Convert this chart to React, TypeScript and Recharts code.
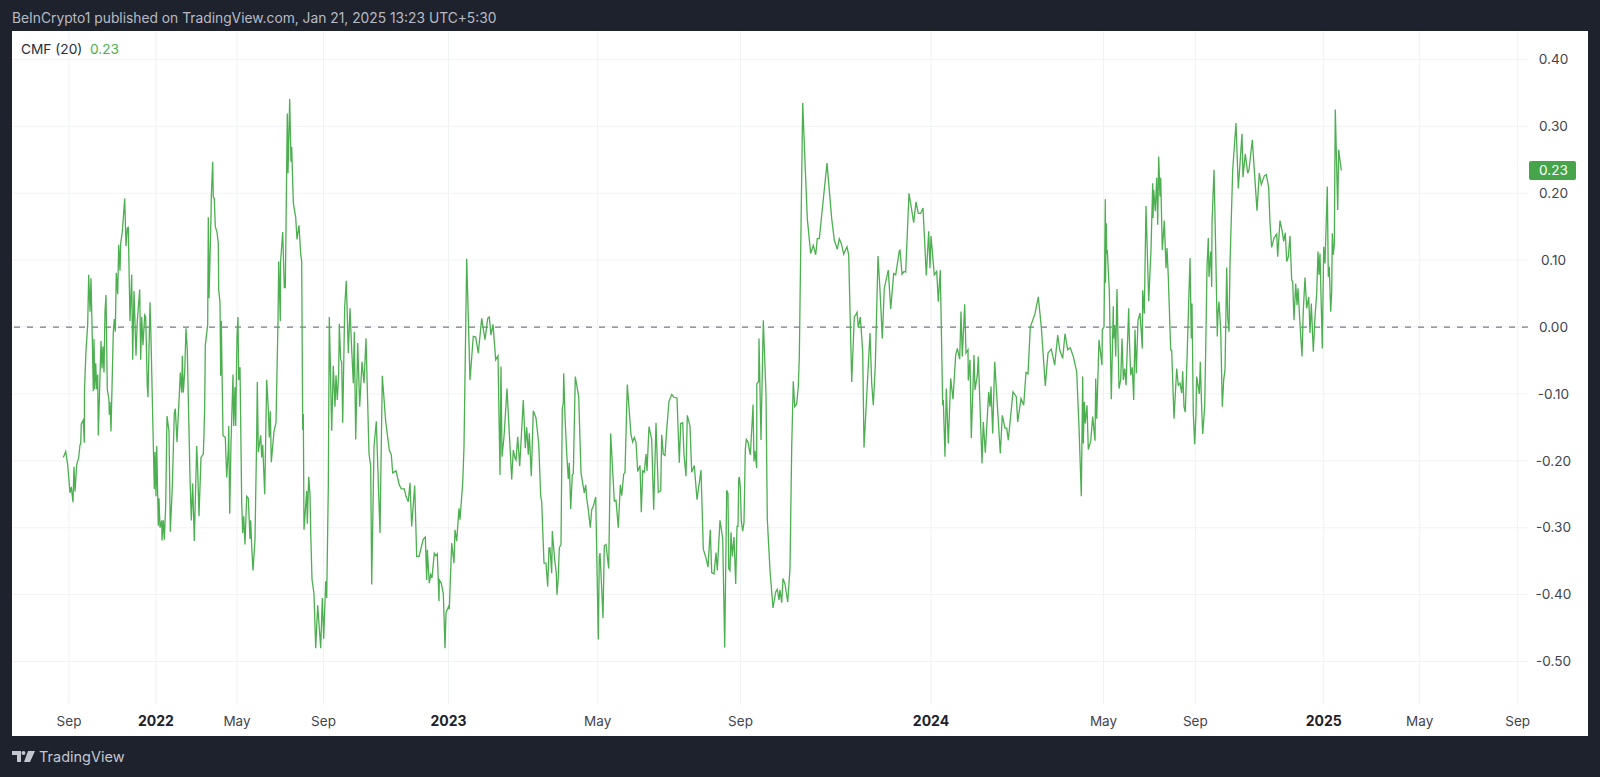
import React from 'react';
import { LineChart, Line, XAxis, YAxis, CartesianGrid, ReferenceLine } from 'recharts';

// [bar, cmf] readings, one list per calendar year
const cmf2021: number[][] = [
  [51.3, -0.195], [53.7, -0.186], [55.7, -0.206], [58, -0.248], [59.3, -0.239], [61, -0.262], [62, -0.209], [63, -0.246],
  [64.7, -0.206], [66.7, -0.195], [68, -0.176], [68.7, -0.175], [69.3, -0.145], [71.3, -0.139], [72.3, -0.173], [72.5, -0.093],
  [74, -0.035], [75.7, 0.004], [76.7, 0.078], [78, 0.023], [79, 0.073], [80.3, -0.018], [81.3, -0.096], [82, -0.018],
  [82.7, -0.093], [83.7, -0.054], [84.7, -0.093], [85.7, -0.071], [86.3, -0.162], [88, -0.073], [89, -0.021], [90, -0.062],
  [91, -0.029], [92, -0.068], [93, 0.023], [94, 0.048], [95.3, -0.093], [97, -0.109], [97.3, -0.131], [98, -0.112],
  [99, -0.156], [101.3, -0.007], [102.3, 0.012], [103.3, -0.007], [104.3, 0.081], [105.7, 0.049], [106.7, 0.123], [108, 0.084],
  [108.7, 0.125], [110.3, 0.142], [112.7, 0.192], [114, 0.121], [115.3, 0.148], [116.3, 0.149], [118, 0.009], [119.7, 0.078],
  [120.7, -0.049], [122, 0.054], [124, -0.043], [125.3, 0.009], [127.7, 0.056], [128.7, -0.049], [129.7, 0.015], [131, -0.027],
  [132.7, 0.018], [133.7, 0.015], [135.3, -0.09], [136, -0.105], [138, 0.037], [139, -0.018], [142.3, -0.242], [143, -0.187],
];
const cmf2022: number[][] = [
  [144, -0.253], [144.7, -0.178], [146.3, -0.297], [147, -0.256], [148, -0.3], [149.7, -0.289], [150, -0.319], [151.3, -0.289],
  [152.3, -0.318], [153.7, -0.267], [155, -0.133], [157, -0.156], [158.3, -0.306], [160.3, -0.239], [162.3, -0.129], [163.3, -0.122],
  [165, -0.172], [167.3, -0.101], [168.3, -0.068], [169.7, -0.098], [170.3, -0.043], [171.3, -0.098], [172.7, -0.068], [174, -0.002],
  [175.3, -0.035], [178, -0.225], [179.3, -0.289], [180.7, -0.234], [182.3, -0.32], [184.7, -0.178], [185.7, -0.212], [187, -0.283],
  [189, -0.195], [191.3, -0.19], [192, -0.159], [192.7, -0.118], [193.3, -0.027], [195.7, 0.004], [196.3, 0.164], [197, 0.043],
  [199, 0.164], [199.3, 0.194], [200.7, 0.247], [201.3, 0.194], [202.3, 0.192], [203.3, 0.15], [205, 0.142], [206.3, 0.125],
  [206.7, 0.055], [208, 0.037], [208.7, -0.073], [209.3, 0.009], [211, -0.162], [213.3, -0.165], [214.7, -0.225], [216.3, -0.184],
  [216.7, -0.148], [217.7, -0.279], [219, -0.173], [221, -0.071], [221.7, -0.148], [223, -0.09], [223.7, -0.148], [225, -0.013],
  [226, 0.015], [226.7, -0.079], [228, -0.06], [229.7, -0.261], [230.7, -0.308], [231.7, -0.283], [233, -0.325], [234.7, -0.253],
  [236.3, -0.256], [238, -0.317], [238.7, -0.289], [239.7, -0.328], [241, -0.364], [243, -0.317], [244.7, -0.162], [245.3, -0.082],
  [246.3, -0.187], [248.7, -0.162], [249.7, -0.195], [250.7, -0.176], [252.7, -0.25], [254.7, -0.079], [256.3, -0.123], [257.3, -0.165],
  [258.3, -0.126], [259.3, -0.202], [262, -0.156], [264, -0.143], [266, 0.009], [266.7, 0.098], [268.3, 0.009], [268.6, 0.098],
  [270.7, 0.142], [272.3, 0.059], [273.3, 0.059], [275.3, 0.319], [276, 0.23], [277.7, 0.341], [279, 0.247], [279.7, 0.269],
  [281.3, 0.186], [283.7, 0.164], [285, 0.131], [287, 0.152], [288.7, 0.109], [289.7, 0.098], [290.7, -0.154], [291.3, -0.13],
  [292, -0.303], [294.7, -0.245], [295.3, -0.294], [296.7, -0.224], [298, -0.25], [298.7, -0.306], [300, -0.377], [302, -0.399],
  [303.7, -0.48], [305.7, -0.416], [308.7, -0.48], [310.3, -0.405], [311.7, -0.466], [313.7, -0.38], [314.7, -0.405], [316.3, -0.239],
  [317.3, 0.015], [319.7, -0.155], [321.3, -0.058], [323, -0.119], [324, -0.072], [325.3, -0.109], [326.7, -0.069], [327.3, 0.005],
  [328.7, -0.049], [329.7, -0.052], [330.7, -0.143], [332.7, 0.03], [334.3, 0.069], [336.3, -0.039], [338, 0.028], [339.7, -0.034],
  [341.3, -0.084], [342.3, -0.007], [343.7, -0.168], [345.7, -0.024], [347.7, -0.119], [350, -0.052], [352, -0.084], [354, -0.017],
  [357, -0.189], [358.7, -0.208], [359.7, -0.385], [362, -0.179], [364.3, -0.141], [368, -0.308], [370.3, -0.073], [373.7, -0.141],
  [377.3, -0.184], [379.3, -0.191], [380.7, -0.218], [384, -0.215], [387.3, -0.236], [389.3, -0.242], [392.3, -0.242], [394, -0.253],
  [396.3, -0.261], [398, -0.233], [399.7, -0.298], [402.7, -0.237], [404.7, -0.343], [407, -0.343], [411.3, -0.317], [413.3, -0.314],
  [414.7, -0.378], [415.3, -0.333], [417.3, -0.383], [418.7, -0.37], [420, -0.375], [422.3, -0.338], [424, -0.342], [425.3, -0.339],
  [427, -0.41], [427.3, -0.378], [429.3, -0.383], [431.3, -0.398], [433, -0.48], [434, -0.427],
];
const cmf2023: number[][] = [
  [436.7, -0.417], [437.3, -0.422], [439.7, -0.323], [442, -0.353], [443, -0.303], [444.7, -0.32], [447, -0.271], [448, -0.288],
  [450.7, -0.233], [452, -0.179], [454.7, 0.102], [458, -0.079], [461.3, -0.014], [463.7, -0.015], [466.3, -0.039], [469.7, 0.013],
  [473, -0.019], [475.7, 0.013], [477.3, 0.015], [479, -0.012], [481, 0.004], [483.7, -0.049], [486, -0.043], [488, -0.221],
  [489, -0.059], [490, -0.194], [492, -0.164], [495, -0.092], [499.7, -0.228], [501.3, -0.184], [503, -0.196], [504, -0.199],
  [505.7, -0.164], [507.7, -0.208], [511.3, -0.109], [513.3, -0.181], [514.7, -0.15], [516.3, -0.191], [517.3, -0.159], [519.3, -0.223],
  [521.3, -0.125], [524, -0.136], [526.7, -0.174], [528.7, -0.253], [529.7, -0.261], [532, -0.353], [534, -0.353], [535.7, -0.388],
  [537, -0.33], [538, -0.33], [539.7, -0.368], [540.3, -0.305], [542.7, -0.348], [544.3, -0.368], [545, -0.4], [546.3, -0.374],
  [547.3, -0.33], [549, -0.325], [550.3, -0.121], [551.3, -0.114], [551.7, -0.069], [553, -0.134], [554.7, -0.189], [556.3, -0.227],
  [557.3, -0.203], [558.7, -0.272], [560.3, -0.221], [561.3, -0.219], [563.3, -0.074], [566.7, -0.104], [569, -0.218], [572.3, -0.248],
  [573.7, -0.236], [574.7, -0.256], [576.3, -0.273], [578.3, -0.3], [579.7, -0.273], [581.3, -0.268], [583.7, -0.254], [586.3, -0.467],
  [587.3, -0.343], [588, -0.338], [589.7, -0.391], [591, -0.435], [592.3, -0.327], [594, -0.325], [596.7, -0.361], [598.7, -0.159],
  [602.3, -0.26], [604, -0.259], [606.3, -0.3], [608.3, -0.236], [609.7, -0.252], [611.7, -0.22], [613, -0.217], [615.3, -0.086],
  [619, -0.161], [620.7, -0.172], [622.3, -0.165], [624, -0.172], [625.7, -0.216], [628, -0.207], [629.3, -0.277], [630.7, -0.215],
  [632.3, -0.217], [634, -0.19], [635, -0.215], [637, -0.149], [639.7, -0.168], [641.7, -0.273], [644, -0.143], [646.3, -0.247],
  [648.7, -0.245], [649.7, -0.161], [651.3, -0.19], [653, -0.192], [654.7, -0.153], [657, -0.111], [659.7, -0.101], [662, -0.105],
  [665, -0.106], [667.3, -0.203], [668.7, -0.144], [670.7, -0.143], [672, -0.191], [674, -0.223], [675.3, -0.132], [678, -0.148],
  [679.7, -0.217], [682.3, -0.207], [685, -0.258], [689, -0.214], [691.3, -0.332], [694, -0.345], [696, -0.359], [698.3, -0.303],
  [699.7, -0.367], [702, -0.369], [704, -0.337], [705.3, -0.364], [708, -0.289], [710.7, -0.316], [712.7, -0.479], [714.7, -0.244],
  [716, -0.249], [716.7, -0.361], [718, -0.364], [719, -0.307], [720.3, -0.343], [722, -0.314], [723.7, -0.384], [725, -0.298],
  [726, -0.298], [726.7, -0.228], [727.3, -0.224], [728.3, -0.239], [729.3, -0.289], [730.7, -0.305], [732, -0.292], [733.3, -0.183],
  [734.3, -0.168], [736, -0.172], [738.3, -0.191], [740.7, -0.127], [741, -0.116], [742, -0.201], [743, -0.185], [744.7, -0.211],
  [744.8, -0.085], [746.7, -0.081], [747, -0.017], [749, -0.169], [751.3, 0.01], [754, -0.1], [755.3, -0.287], [758, -0.364],
  [761, -0.42], [763.7, -0.396], [765.3, -0.392], [767, -0.408], [768, -0.393], [769.7, -0.412], [771, -0.376], [773, -0.384],
  [775.7, -0.411], [778, -0.361], [779.7, -0.18], [781.3, -0.081], [782.7, -0.119], [784.7, -0.115], [786.3, -0.089], [787.3, -0.046],
  [788.7, 0.114], [790.7, 0.335], [793, 0.247], [795.3, 0.162], [798.7, 0.11], [801.3, 0.122], [803.7, 0.108], [805.3, 0.132],
  [807.3, 0.132], [809.7, 0.167], [815, 0.245], [819.7, 0.162], [822.3, 0.13], [825.3, 0.116], [827.3, 0.132], [829.3, 0.125],
  [831.7, 0.109], [835, 0.12], [836.7, 0.108], [839.7, -0.082], [842.3, 0.015], [843.7, 0.018], [845, 0.022], [846.3, -0.001],
  [848.3, 0.015], [850.7, -0.036], [852, -0.18], [858, -0.009], [859.7, -0.084], [861.3, -0.117], [863.3, -0.057], [866, 0.106],
  [868, 0.055], [870.3, -0.017], [872.3, 0.058], [876.3, 0.085], [878.7, 0.027], [881.7, 0.08], [883.7, 0.078], [887.3, 0.114],
  [888, 0.115], [890, 0.079], [892, 0.083], [893.7, 0.082], [897, 0.2], [901.7, 0.156], [904, 0.187], [906.3, 0.17],
  [908.7, 0.17], [911, 0.178], [914.3, 0.077], [916.7, 0.143], [918, 0.088],
];
const cmf2024: number[][] = [
  [919, 0.136], [922.3, 0.078], [924.7, 0.083], [926.3, 0.038], [928.3, 0.085], [930.7, -0.117], [931.3, -0.109], [933, -0.194],
  [934.3, -0.092], [936.3, -0.174], [938.7, -0.077], [941, -0.108], [943.7, -0.042], [945.3, -0.032], [947.7, -0.048], [949, 0.023],
  [950.3, -0.044], [952.7, 0.034], [954, -0.039], [956, -0.034], [956.3, -0.08], [958, -0.049], [959.3, -0.166], [962, -0.042],
  [963, -0.094], [965.3, -0.072], [966.3, -0.044], [970, -0.204], [971.3, -0.142], [973.3, -0.188], [976.7, -0.097], [978, -0.119],
  [979, -0.089], [980.7, -0.159], [982.7, -0.052], [988.3, -0.189], [990.3, -0.132], [993, -0.151], [994.7, -0.151], [996.3, -0.169],
  [1001, -0.097], [1004.3, -0.104], [1005.7, -0.142], [1009, -0.107], [1011.7, -0.117], [1014, -0.068], [1016, -0.07], [1018.3, 0],
  [1023, 0.02], [1026.3, 0.045], [1029.3, 0], [1033.3, -0.088], [1036, -0.039], [1039.3, -0.033], [1042.7, -0.057], [1045.7, -0.012],
  [1047.7, -0.034], [1050.7, -0.047], [1053, -0.01], [1055.7, -0.034], [1058.3, -0.031], [1061.3, -0.044], [1064.7, -0.067], [1067, -0.149],
  [1069.3, -0.253], [1070.7, -0.074], [1071.3, -0.174], [1072.3, -0.112], [1073.3, -0.144], [1075, -0.117], [1076.3, -0.183], [1078.7, -0.171],
  [1080.7, -0.134], [1083, -0.17], [1083.7, -0.077], [1084.7, -0.137], [1087, -0.019], [1090, -0.057], [1090.3, -0.004], [1092, 0],
  [1093.3, 0.191], [1093.5, 0.066], [1094.3, 0.155], [1094.7, 0.11], [1095.3, 0.115], [1097.3, 0.055], [1099.3, -0.108], [1101.3, 0.031],
  [1101.5, -0.017], [1102.7, 0.003], [1103.7, -0.044], [1105, 0.057], [1107, -0.092], [1108.7, -0.079], [1110, -0.017], [1111.3, -0.079],
  [1112.7, -0.062], [1114, -0.087], [1116.7, 0.028], [1117.3, -0.014], [1118.7, -0.072], [1120.3, -0.06], [1121.7, -0.109], [1123, -0.004],
  [1124.3, -0.069], [1126, 0.01], [1128, 0.021], [1130.3, -0.032], [1130.7, 0.055], [1132.3, 0.02], [1134, 0.181], [1136.7, 0.039],
  [1139, 0.115], [1140.7, 0.215], [1141, 0.163], [1141.7, 0.205], [1143.3, 0.173], [1144.7, 0.223], [1145.7, 0.153], [1146.7, 0.255],
  [1148, 0.195], [1148.7, 0.223], [1150.3, 0.115], [1152.3, 0.159], [1154, 0.088], [1155, 0.118], [1156.3, 0.075], [1158.7, -0.034],
  [1159.7, -0.035], [1162, -0.137], [1164.7, -0.062], [1166.3, -0.087], [1168, -0.084], [1169.7, -0.099], [1170.7, -0.066], [1172, -0.119],
  [1173.3, -0.127], [1175.3, -0.034], [1178, 0.103], [1179.3, -0.017], [1180, 0.035], [1181.3, -0.129], [1182.7, -0.175], [1184, -0.129],
  [1184.7, -0.074], [1187.3, -0.1], [1188.3, -0.052], [1189.7, -0.122], [1190.7, -0.16], [1192.7, -0.119], [1193.7, -0.034], [1195, 0.09],
  [1196.3, 0.133], [1197, 0.075], [1198.7, 0.113], [1199.7, 0.06], [1200, 0.155], [1202, 0.235], [1203.7, 0.115], [1205.3, -0.014],
  [1206, 0.02], [1207, 0.038], [1208.7, -0.004], [1210.3, -0.119], [1211.7, -0.079], [1213, -0.064], [1214.7, 0.089], [1215.7, 0.015],
  [1217, -0.007], [1218, 0.095], [1220.7, 0.235], [1224, 0.305], [1226.3, 0.207], [1230, 0.289], [1231, 0.224], [1233.3, 0.259],
  [1235.7, 0.23], [1237, 0.235], [1240.3, 0.28], [1245, 0.174], [1247.3, 0.23], [1249.3, 0.213], [1252.3, 0.226], [1254.3, 0.228],
  [1256.7, 0.208], [1258, 0.155], [1259.7, 0.119], [1262, 0.133], [1264.7, 0.139], [1265.7, 0.105], [1268, 0.159], [1270, 0.145],
  [1271.7, 0.128], [1273.3, 0.141], [1274.7, 0.098], [1276.3, 0.105], [1278, 0.136], [1279.7, 0.07], [1280.7, 0.068], [1282, 0.01],
  [1283.7, 0.065], [1285, 0.033], [1286, 0.058], [1288, 0.005], [1290, -0.044], [1291.3, 0.025], [1293, 0.074], [1294.7, 0.028],
  [1296.7, 0.045], [1298, -0.009], [1299.3, 0.035], [1301.3, -0.037], [1303, 0.015], [1304.7, 0.05], [1306, 0.113], [1307, 0.078],
  [1308, 0.11], [1310.3, -0.032], [1311.7, 0.12],
];
const cmf2025: number[][] = [
  [1313, 0.095], [1315.3, 0.21], [1316.3, 0.075], [1317.3, 0.09], [1318.7, 0.023], [1319.7, 0.053], [1320.3, 0.14], [1321.3, 0.108],
  [1322.3, 0.123], [1323.3, 0.325], [1325.7, 0.175], [1326.7, 0.265], [1329.3, 0.234],
];

const tickBars = [57, 144, 225, 311.5, 436.5, 585.7, 728.5, 919, 1091.5, 1183.3, 1311.7, 1407.7, 1505.7];
const tickLabels = ['Sep', '2022', 'May', 'Sep', '2023', 'May', 'Sep', '2024', 'May', 'Sep', '2025', 'May', 'Sep'];
const priceTicks = [-0.5, -0.4, -0.3, -0.2, -0.1, 0, 0.1, 0.2, 0.3, 0.4];
const lastValue = 0.234;

const points = [...cmf2021, ...cmf2022, ...cmf2023, ...cmf2024, ...cmf2025].map(([bar, cmf]) => ({ bar, cmf }));

const FONT = 'Inter, "Noto Sans", sans-serif';
const GREEN = '#4caf50';

const TimeTick = ({ x, index }: any) => {
  const label = tickLabels[index];
  const isYear = label.length === 4;
  return (
    <text x={x} y={722} textAnchor="middle" dominantBaseline="middle" fontFamily={FONT} fontSize={isYear ? 14 : 13.5}
      fontWeight={isYear ? 700 : 400} fill={isYear ? '#1e222d' : '#42454f'}>
      {label}
    </text>
  );
};

const PriceTick = ({ y, payload }: any) => (
  <text x={1553.5} y={y + 1} textAnchor="middle" dominantBaseline="middle" fontFamily={FONT} fontSize={13.6} fill="#42454f">
    {payload.value.toFixed(2)}
  </text>
);

const LastBadge = ({ viewBox }: any) => {
  const y = viewBox.y;
  return (
    <g>
      <rect x={1529} y={y - 9.5} width={47} height={19} rx={2} fill="#46a54b" />
      <text x={1553.5} y={y + 1} textAnchor="middle" dominantBaseline="middle" fontFamily={FONT} fontSize={13.6} fill="#fff">
        {lastValue.toFixed(2)}
      </text>
    </g>
  );
};

export default function App() {
  return (
    <div style={{ position: 'absolute', left: 0, top: 0, width: 1600, height: 777, background: '#1e222d', overflow: 'hidden', fontFamily: FONT }}>
      <div style={{ position: 'absolute', left: 12, top: 10, fontSize: 13.8, lineHeight: '17px', color: '#b8bbc4', whiteSpace: 'nowrap' }}>
        BeInCrypto1 published on TradingView.com, Jan 21, 2025 13:23 UTC+5:30
      </div>
      <div style={{ position: 'absolute', left: 12, top: 31, width: 1576, height: 705, background: '#fff' }} />
      <LineChart width={1600} height={777} data={points} margin={{ top: 31, right: 12, bottom: 41, left: 12 }}
        style={{ position: 'absolute', left: 0, top: 0 }}>
        <CartesianGrid stroke="#f1f2f4" syncWithTicks />
        <XAxis dataKey="bar" type="number" domain={[0, 1516]} ticks={tickBars} interval={0} height={32}
          axisLine={false} tickLine={false} tick={<TimeTick />} />
        <YAxis orientation="right" type="number" domain={[-0.5635, 0.4425]} ticks={priceTicks} interval={0} width={60}
          axisLine={false} tickLine={false} tick={<PriceTick />} />
        <ReferenceLine y={0} stroke="#787b86" strokeWidth={1.2} strokeDasharray="6 7" />
        <Line dataKey="cmf" type="linear" dot={false} stroke={GREEN} strokeWidth={1.3} isAnimationActive={false} />
        <ReferenceLine y={lastValue} stroke="none" label={<LastBadge />} />
      </LineChart>
      <div style={{ position: 'absolute', left: 21, top: 41, fontSize: 13.7, lineHeight: '17px', color: '#2a2e39', whiteSpace: 'nowrap' }}>
        CMF (20)
      </div>
      <div style={{ position: 'absolute', left: 90, top: 41, fontSize: 13.7, lineHeight: '17px', color: GREEN }}>0.23</div>
      <svg style={{ position: 'absolute', left: 12, top: 751 }} width={23} height={12} viewBox="0 0 23 12">
        <path d="M0 0h9v11H5V4H0z M11.5 0a2 2 0 1 1 0 4a2 2 0 1 1 0-4z M16 0h7l-5 11h-6z" fill="#c3c6ce" />
      </svg>
      <div style={{ position: 'absolute', left: 39, top: 748, fontSize: 14.5, lineHeight: '18px', color: '#c3c6ce', whiteSpace: 'nowrap' }}>
        TradingView
      </div>
    </div>
  );
}
